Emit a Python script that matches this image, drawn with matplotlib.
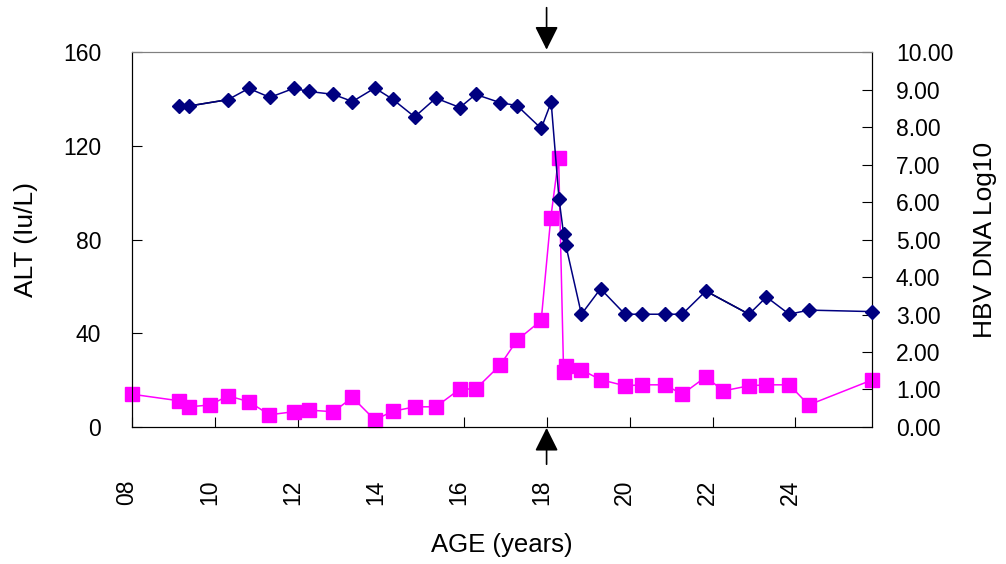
import matplotlib
matplotlib.use('Agg')
import matplotlib.pyplot as plt
from matplotlib.transforms import ScaledTranslation
import numpy as np

plt.rcParams['font.family'] = ['Liberation Sans', 'DejaVu Sans']

# ALT (left axis)
alt_age = [8.0, 9.13, 9.38, 9.89, 10.32, 10.82, 11.32, 11.90, 12.27, 12.86,
           13.32, 13.86, 14.29, 14.83, 15.33, 15.91, 16.29, 16.88, 17.29, 17.87,
           18.10, 18.29, 18.41, 18.46, 18.84, 19.30, 19.89, 20.31, 20.85, 21.27,
           21.84, 22.26, 22.88, 23.30, 23.85, 24.32, 25.85]
alt = [14.0, 11.2, 8.6, 9.4, 13.3, 10.8, 5.2, 6.5, 7.2, 6.5,
       12.6, 3.0, 6.7, 8.6, 8.6, 16.2, 16.2, 26.4, 37.1, 45.5,
       89.2, 114.9, 23.5, 26.1, 24.4, 20.2, 17.6, 18.0, 18.0, 14.0,
       21.4, 15.4, 17.6, 18.0, 18.0, 9.4, 20.1]

# HBV DNA log10 (right axis)
dna_age = [9.13, 9.38, 10.32, 10.82, 11.33, 11.90, 12.27, 12.86, 13.32, 13.86,
           14.29, 14.82, 15.33, 15.91, 16.29, 16.88, 17.29, 17.87, 18.11, 18.30,
           18.41, 18.46, 18.84, 19.30, 19.89, 20.31, 20.85, 21.27, 21.84, 22.88,
           23.30, 23.85, 24.32, 25.85]
dna = [8.57, 8.57, 8.74, 9.04, 8.80, 9.04, 8.96, 8.88, 8.69, 9.05,
       8.75, 8.28, 8.78, 8.53, 8.88, 8.66, 8.58, 7.97, 8.67, 6.09,
       5.15, 4.87, 3.01, 3.69, 3.01, 3.01, 3.01, 3.01, 3.63, 3.01,
       3.47, 3.01, 3.12, 3.08]

xticks = [8, 10, 12, 14, 16, 18, 20, 22, 24]
xticklabels = ['08', '10', '12', '14', '16', '18', '20', '22', '24']
event_age = 18.0

fig = plt.figure(figsize=(10.06, 5.64), dpi=100)
ax = fig.add_axes([0.131, 0.243, 0.736, 0.664])
ax2 = ax.twinx()

ax.plot(alt_age, alt, color='#FF00FF', marker='s', markersize=9.5, lw=1.1,
        clip_on=False, zorder=3)
ax2.plot(dna_age, dna, color='#000080', marker='D', markersize=7, lw=1.1,
         clip_on=False, zorder=3)
# two segments drawn in black in the original
for i in [1, 28]:
    ax2.plot(dna_age[i:i + 2], dna[i:i + 2], color='black', lw=1.1, zorder=2.5)

ax.set_xlim(8, 25.85)
ax.set_ylim(0, 160)
ax2.set_ylim(0, 10)
ax.set_yticks([0, 40, 80, 120, 160])
ax2.set_yticks(np.arange(0, 11, 1))
ax2.set_yticklabels(['%.2f' % v for v in range(0, 11)])
ax.set_xticks(xticks)
ax.set_xticklabels(xticklabels, rotation=90)

ax.tick_params(axis='both', direction='in', length=7, labelsize=16.5)
ax.tick_params(axis='y', pad=22)
ax.tick_params(axis='x', pad=38)
ax2.tick_params(axis='y', direction='in', length=7, labelsize=16.5, pad=17)
shift = ScaledTranslation(-5 / 100, 0, fig.dpi_scale_trans)
for lab in ax.get_xticklabels():
    lab.set_transform(lab.get_transform() + shift)

for a in (ax, ax2):
    a.spines['top'].set_color('gray')

ax.set_xlabel('AGE (years)', fontsize=18.5)
ax.xaxis.set_label_coords(0.5, -0.284)
ax.set_ylabel('ALT (Iu/L)', fontsize=19)
ax.yaxis.set_label_coords(-0.126, 0.5)
ax2.set_ylabel('HBV DNA Log10', fontsize=19)
ax2.yaxis.set_label_coords(1.1357, 0.5)

# event arrows
for y_tip, y_tail in [(1.0, 1.127), (0.005, -0.107)]:
    ax.annotate('', xy=(event_age, y_tip), xytext=(event_age, y_tail),
                xycoords=('data', 'axes fraction'), textcoords=('data', 'axes fraction'),
                arrowprops=dict(arrowstyle='-|>,head_length=1.0,head_width=0.5',
                                mutation_scale=14.4, color='black', lw=1.2),
                annotation_clip=False)

fig.savefig('out.png', dpi=100)
